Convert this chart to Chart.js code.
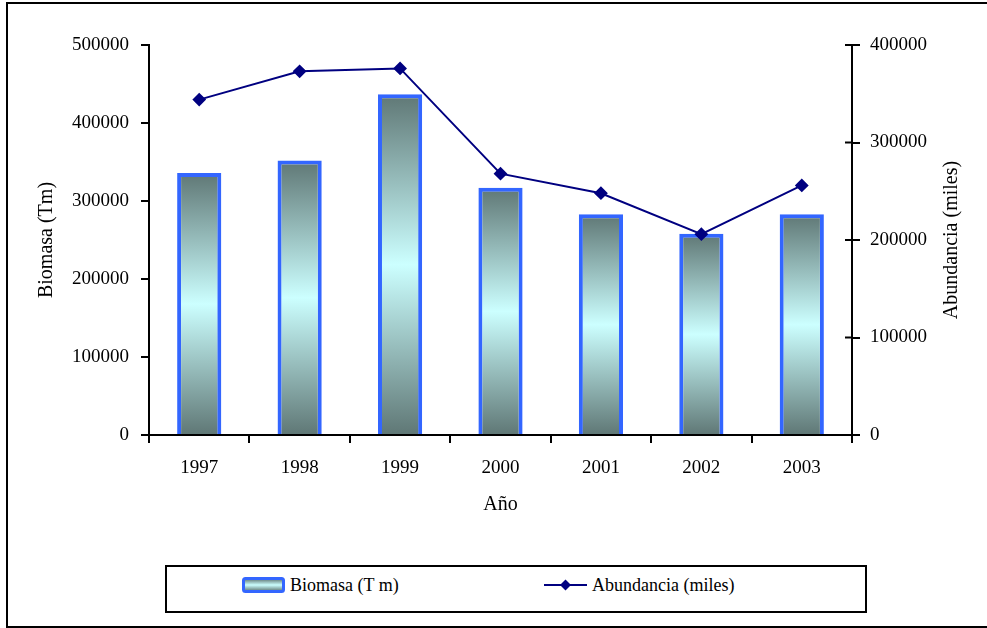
<!DOCTYPE html>
<html>
<head>
<meta charset="utf-8">
<script src="https://cdn.jsdelivr.net/npm/chart.js"></script>
<style>
	body { margin: 0; background: #fff; }
	#wrap { position: relative; width: 987px; height: 628px; overflow: hidden; }
	#frame { position: absolute; left: 6px; top: 2px; width: 1000px; height: 626px; border: 2px solid #000; box-sizing: border-box; }
	#chart { position: absolute; left: 0; top: 0; }
	#legend { position: absolute; left: 165px; top: 565px; width: 702px; height: 48px; border: 2px solid #000; box-sizing: border-box; background: #fff; }
	.legend-item { position: absolute; top: 8px; height: 20px; display: flex; align-items: center; gap: 5px;
		font-family: "Liberation Serif", "Times New Roman", serif; font-size: 18px; line-height: 20px; color: #000; white-space: nowrap; }
	.legend-item canvas { display: block; }
</style>
</head>
<body>
<div id="wrap">
	<div id="frame"></div>
	<canvas id="chart" width="987" height="628"></canvas>
	<div id="legend"></div>
</div>
<script>
// datos por año
var years = ['1997', '1998', '1999', '2000', '2001', '2002', '2003'];
var biomasa = [336000, 352000, 437000, 317000, 283000, 258000, 283000];
var abundancia = [344000, 373000, 376000, 268000, 248000, 206000, 256000];

var biomasaMax = 500000;
var abundanciaMax = 400000;
var tickStep = 100000;

var labelBiomasa = 'Biomasa (T m)';
var labelAbundancia = 'Abundancia (miles)';
var tituloX = 'Año';
var tituloY = 'Biomasa (Tm)';
var tituloY1 = 'Abundancia (miles)';

var FUENTE = '"Liberation Serif", "Times New Roman", serif';
var GRIS = '#5f7775';
var CIAN = '#ccffff';
var AZUL = '#3366ff';
var MARINO = '#000080';

Chart.defaults.font.family = FUENTE;
Chart.defaults.color = '#000';

// degradado gris-cian-gris para cada barra
function barGradient(context){
	var chart = context.chart;
	if(!chart.chartArea || context.raw === undefined){
		return CIAN;
	}
	var y = chart.scales.y;
	var top = y.getPixelForValue(context.raw);
	var base = y.getPixelForValue(0);
	var g = chart.ctx.createLinearGradient(0, top, 0, base);
	g.addColorStop(0, GRIS);
	g.addColorStop(0.5, CIAN);
	g.addColorStop(1, GRIS);
	return g;
}

// sin separador de miles
function plainTick(value){
	return String(value);
}

// marcas del eje derecho que cruzan hacia dentro + titulo leido de abajo a arriba
var ejeDerecho = {
	id: 'ejeDerecho',
	afterDraw: function(chart){
		var s = chart.scales.y1;
		var ctx = chart.ctx;
		ctx.save();
		ctx.strokeStyle = '#000';
		ctx.lineWidth = 2;
		for(var i=0;i<s.ticks.length;i++){
			var py = s.getPixelForTick(i);
			ctx.beginPath();
			ctx.moveTo(s.left, py);
			ctx.lineTo(s.left - 7, py);
			ctx.stroke();
		}

		ctx.translate(s.right - 20, (s.top + s.bottom) / 2);
		ctx.rotate(-Math.PI / 2);
		ctx.font = '20px ' + FUENTE;
		ctx.fillStyle = '#000';
		ctx.textAlign = 'center';
		ctx.textBaseline = 'middle';
		ctx.fillText(tituloY1, 0, 0);
		ctx.restore();
	}
};

var ctx = document.getElementById('chart');

var chart = new Chart(ctx, {
	data: {
		labels: years,
		datasets: [{
			type: 'bar',
			label: labelBiomasa,
			data: biomasa,
			yAxisID: 'y',
			backgroundColor: barGradient,
			borderColor: AZUL,
			borderWidth: 4,
			barPercentage: 0.44,
			categoryPercentage: 1,
			order: 2
		}, {
			type: 'line',
			label: labelAbundancia,
			data: abundancia,
			yAxisID: 'y1',
			borderColor: MARINO,
			borderWidth: 2,
			pointStyle: 'rectRot',
			pointRadius: 5.5,
			pointBackgroundColor: MARINO,
			pointBorderColor: MARINO,
			tension: 0,
			order: 1
		}]
	},
	options: {
		responsive: false,
		animation: false,
		layout: {
			padding: { left: 8, right: 15, top: 45, bottom: 103 }
		},
		scales: {
			x: {
				grid: { drawOnChartArea: false, tickLength: 8, color: '#000', lineWidth: 2, offset: true },
				border: { color: '#000', width: 2 },
				ticks: { font: { size: 19 }, padding: 14 },
				title: { display: true, text: tituloX, font: { size: 20 }, padding: { top: 0, bottom: 8 } },
				afterFit: function(scale){ scale.height = 90; }
			},
			y: {
				position: 'left',
				min: 0,
				max: biomasaMax,
				ticks: { stepSize: tickStep, font: { size: 19 }, padding: 12, callback: plainTick },
				grid: { drawOnChartArea: false, tickLength: 8, color: '#000', lineWidth: 2 },
				border: { color: '#000', width: 2 },
				title: { display: true, text: tituloY, font: { size: 20 }, padding: { top: 27, bottom: 0 } },
				afterFit: function(scale){ scale.width = 141; }
			},
			y1: {
				position: 'right',
				min: 0,
				max: abundanciaMax,
				ticks: { stepSize: tickStep, font: { size: 19 }, padding: 10, callback: plainTick },
				grid: { drawOnChartArea: false, tickLength: 8, color: '#000', lineWidth: 2 },
				border: { color: '#000', width: 2 },
				title: { display: false },
				afterFit: function(scale){ scale.width = 120; }
			}
		},
		plugins: {
			legend: { display: false },
			tooltip: { enabled: false }
		}
	},
	plugins: [ejeDerecho]
});

// leyenda en html debajo del grafico
function swatchBar(c){
	var g = c.getContext('2d');
	var grad = g.createLinearGradient(0, 2, 0, 14);
	grad.addColorStop(0, GRIS);
	grad.addColorStop(0.5, CIAN);
	grad.addColorStop(1, GRIS);
	g.fillStyle = grad;
	g.fillRect(2, 2, 39, 12);
	g.strokeStyle = AZUL;
	g.lineWidth = 3;
	g.beginPath();
	g.roundRect(1.5, 1.5, 40, 13, 2);
	g.stroke();
}

function swatchLine(c){
	var g = c.getContext('2d');
	g.strokeStyle = MARINO;
	g.fillStyle = MARINO;
	g.lineWidth = 2;
	g.beginPath();
	g.moveTo(0, 8);
	g.lineTo(43, 8);
	g.stroke();
	g.beginPath();
	g.moveTo(21.5, 2.5);
	g.lineTo(27, 8);
	g.lineTo(21.5, 13.5);
	g.lineTo(16, 8);
	g.closePath();
	g.fill();
}

var legendDiv = document.getElementById('legend');
var legendLeft = [75, 377];
var swatches = [swatchBar, swatchLine];

for(i=0;i<chart.data.datasets.length;i++){
	var item = document.createElement('div');
	item.className = 'legend-item';
	item.style.left = legendLeft[i] + 'px';

	var sw = document.createElement('canvas');
	sw.width = 43;
	sw.height = 16;
	swatches[i](sw);

	var txt = document.createElement('span');
	txt.textContent = chart.data.datasets[i].label;

	item.appendChild(sw);
	item.appendChild(txt);
	legendDiv.appendChild(item);
}
</script>
</body>
</html>
